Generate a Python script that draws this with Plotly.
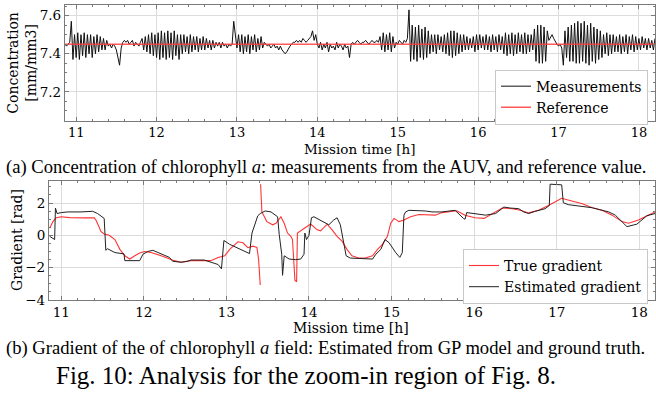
import numpy as np
import plotly.graph_objects as go

# ---------------- data ----------------
# (a) chlorophyll measurements, sampled uniformly from 10.86 h to 18.20 h
meas_start, meas_end = 10.86, 18.20
meas_vals = [
    7.45, 7.44, 7.45, 7.46,
    7.57, 7.37,
    7.50, 7.38, 7.51, 7.37, 7.50, 7.39, 7.51, 7.38, 7.50, 7.40, 7.50, 7.38, 7.49, 7.40, 7.50, 7.41, 7.49, 7.42, 7.48, 7.42, 7.47,
    7.44, 7.45, 7.43, 7.45, 7.44,
    7.42, 7.38, 7.34,
    7.43,
    7.46, 7.47, 7.46, 7.47, 7.45, 7.46, 7.47, 7.44, 7.46, 7.45, 7.44, 7.46,
    7.48, 7.42, 7.49, 7.41, 7.50, 7.40, 7.51, 7.39, 7.50, 7.38, 7.51, 7.37, 7.52, 7.38, 7.51, 7.37, 7.52, 7.38, 7.51, 7.37, 7.52, 7.39, 7.50, 7.37, 7.50,
    7.40, 7.50, 7.41, 7.49, 7.40, 7.50, 7.41, 7.49, 7.42, 7.49, 7.41, 7.48, 7.42, 7.49, 7.42, 7.48, 7.43, 7.47, 7.42, 7.47, 7.43, 7.46, 7.44, 7.46, 7.43, 7.46, 7.44, 7.45, 7.43, 7.45,
    7.44, 7.45,
    7.57, 7.50,
    7.43, 7.50, 7.41, 7.50, 7.40, 7.49, 7.41, 7.50, 7.40, 7.49, 7.42, 7.50, 7.41, 7.48, 7.42, 7.49, 7.43, 7.46,
    7.45, 7.44, 7.45, 7.43, 7.44, 7.45, 7.43, 7.44, 7.42, 7.44,
    7.42, 7.41, 7.40, 7.41, 7.43, 7.44, 7.45,
    7.46, 7.46, 7.47, 7.46, 7.47, 7.46, 7.48, 7.47, 7.46, 7.47, 7.48,
    7.49, 7.52, 7.47, 7.50, 7.45,
    7.43, 7.46, 7.42, 7.45, 7.43, 7.46, 7.41, 7.45, 7.43, 7.44, 7.42, 7.46, 7.43, 7.45, 7.44, 7.42, 7.45, 7.43, 7.44,
    7.38, 7.45,
    7.46, 7.45, 7.46, 7.47, 7.46, 7.45, 7.46, 7.46, 7.47, 7.46, 7.45, 7.46, 7.47, 7.46, 7.46, 7.47, 7.46,
    7.49, 7.42, 7.51, 7.41, 7.50, 7.42, 7.51, 7.41, 7.49, 7.43,
    7.46, 7.45, 7.47, 7.46, 7.45, 7.47, 7.46, 7.48,
    7.63,
    7.36, 7.55, 7.37, 7.54, 7.36, 7.55, 7.38, 7.53, 7.37, 7.54, 7.38, 7.52, 7.40, 7.50, 7.41, 7.50, 7.40, 7.50, 7.42, 7.49, 7.41, 7.50, 7.40, 7.51, 7.39, 7.52,
    7.38, 7.52, 7.39, 7.51, 7.40, 7.50, 7.41, 7.50,
    7.42, 7.49, 7.42, 7.48, 7.43, 7.49, 7.41, 7.50,
    7.42, 7.50, 7.43, 7.49, 7.42, 7.50,
    7.42, 7.49, 7.41, 7.50, 7.42, 7.49, 7.41, 7.50, 7.42, 7.49,
    7.40, 7.51, 7.39, 7.50, 7.40, 7.51, 7.39, 7.50, 7.40, 7.51, 7.41, 7.50, 7.40, 7.51, 7.40, 7.50, 7.41, 7.50, 7.42,
    7.53, 7.36, 7.55, 7.35, 7.55, 7.35, 7.54, 7.36, 7.52,
    7.47, 7.49, 7.50,
    7.48, 7.46, 7.45,
    7.44, 7.45, 7.43,
    7.34,
    7.52, 7.38, 7.54, 7.36, 7.55, 7.36, 7.56, 7.35, 7.57, 7.35, 7.56, 7.36, 7.57, 7.35, 7.55, 7.34, 7.56, 7.36, 7.54, 7.35, 7.53, 7.37, 7.52, 7.38,
    7.50, 7.40, 7.51, 7.39, 7.50, 7.40, 7.50, 7.41, 7.49,
    7.41, 7.50, 7.40, 7.49, 7.41, 7.50, 7.40, 7.49, 7.42, 7.50, 7.41, 7.49, 7.42,
    7.48, 7.42, 7.49, 7.43, 7.48, 7.42, 7.48, 7.43, 7.47, 7.42, 7.48,
]
reference_value = 7.45

# (b) gradient: true (ground truth) and estimated from GP model
true_t = [10.86, 10.90, 10.94, 11.00, 11.10, 11.20, 11.30, 11.40, 11.42, 11.46, 11.48, 11.52, 11.58, 11.65,
          11.71, 11.77, 11.83, 11.89, 11.95, 12.01, 12.09, 12.21, 12.37, 12.45, 12.57, 12.73, 12.81, 12.90,
          12.98, 13.04, 13.14, 13.20, 13.26, 13.32, 13.37, 13.39, 13.41, None, 13.414, 13.43, 13.49, 13.56,
          13.60, 13.66, 13.70, 13.74, 13.78, 13.80, 13.83, 13.85, 13.86, 13.92, 14.00, 14.02, 14.10, 14.14,
          14.18, 14.22, 14.28, 14.34, 14.40, 14.46, 14.52, 14.60, 14.68, 14.77, 14.83, 14.89, 14.95, 14.99,
          15.03, 15.09, 15.15, 15.23, 15.33, 15.45, 15.53, 15.61, 15.73, 15.79, 15.89, 16.01, 16.12, 16.22,
          16.34, 16.46, 16.56, 16.66, 16.78, 16.90, 16.98, 17.06, 17.16, 17.31, 17.43, 17.55, 17.67, 17.79,
          17.87, 17.99, 18.07, 18.19]
true_v = [0.44, 0.85, 1.09, 1.15, 1.10, 1.07, 1.08, 1.08, 0.95, 0.50, 0.24, 0.08, 0.00, -0.26,
          -0.87, -1.27, -1.47, -1.27, -1.10, -1.00, -1.07, -1.27, -1.57, -1.67, -1.57, -1.57, -1.57, -1.37,
          -1.27, -0.87, -0.40, -0.46, -0.77, -0.67, -0.75, -1.50, -3.08, None, 3.17, 1.45, 0.85, 0.65,
          0.75, 1.15, 0.75, 0.14, -0.06, -0.26, -2.78, -2.88, 0.14, 0.34, 0.65, 0.70, 0.34, 0.28,
          0.48, 0.69, 0.34, -0.06, -0.36, -0.87, -1.27, -1.41, -1.41, -1.27, -0.87, -0.56, -0.06, 0.75,
          1.05, 0.85, 0.95, 1.15, 1.29, 1.25, 1.25, 1.41, 1.49, 1.52, 1.25, 1.09, 1.05, 1.35,
          1.69, 1.65, 1.55, 1.39, 1.55, 1.85, 2.10, 2.30, 2.16, 1.96, 1.71, 1.55, 1.25, 0.85,
          0.75, 0.95, 1.15, 1.45]

est_t = [10.86, 10.92, 10.93, 10.95, 11.00, 11.08, 11.24, 11.34, 11.38, 11.44, 11.52, 11.54, 11.56, 11.65,
         11.73, 11.76, 11.77, 11.95, 11.99, 12.05, 12.11, 12.17, 12.31, 12.35, 12.45, 12.53, 12.57, 12.73,
         12.81, 12.90, 12.94, 12.97, 13.04, 13.16, 13.28, 13.31, 13.38, 13.41, 13.47, 13.54, 13.60, 13.62,
         13.64, 13.67, 13.68, 13.70, 13.76, 13.84, 13.90, 13.94, 13.95, 13.97, 14.00, 14.03, 14.06, 14.16,
         14.24, 14.30, 14.34, 14.38, 14.42, 14.45, 14.50, 14.64, 14.77, 14.81, 14.87, 14.92, 14.97, 15.05,
         15.10, 15.13, 15.15, 15.17, 15.21, 15.41, 15.49, 15.61, 15.73, 15.77, 15.87, 15.89, 15.91, 16.01,
         16.14, 16.26, 16.36, 16.44, 16.54, 16.60, 16.66, 16.74, 16.86, 16.91, 16.92, 17.06, 17.08, 17.14,
         17.31, 17.43, 17.55, 17.63, 17.71, 17.77, 17.79, 17.85, 17.97, 18.03, 18.09, 18.19]
est_v = [-0.06, -0.26, 1.69, 1.35, 1.41, 1.45, 1.45, 1.45, 1.49, 1.35, 1.05, -0.93, -0.83, -1.07,
         -1.13, -1.15, -1.57, -1.57, -1.17, -1.00, -0.93, -1.07, -1.37, -1.61, -1.67, -1.61, -1.53, -1.53,
         -1.67, -1.81, -2.08, -0.32, -0.56, -0.87, -1.13, 0.14, 1.21, 1.35, 1.51, 1.45, 1.25, 1.15,
         0.04, -1.17, -2.48, -1.27, -1.47, -1.51, -1.47, -1.17, 0.14, -0.26, 0.00, 1.09, 1.15, 0.89,
         0.65, 0.95, 1.09, 0.65, -0.36, -1.27, -1.41, -1.45, -1.47, -1.17, -0.87, -0.26, -0.46, -1.07,
         -1.37, -1.07, 1.25, 1.45, 1.55, 1.51, 1.45, 1.45, 1.51, 1.55, 1.05, 1.00, 1.41, 1.35,
         1.25, 1.35, 1.75, 1.69, 1.65, 1.45, 1.35, 1.49, 1.65, 1.85, 3.17, 3.13, 2.02, 1.90,
         1.81, 1.71, 1.55, 1.45, 1.25, 0.95, 0.81, 0.54, 0.69, 0.95, 1.21, 1.35]

# ---------------- figure ----------------
W, H = 656, 398
def px(x):
    return x / W
def py(y):
    return 1 - y / H

SERIF = "DejaVu Serif"
TIMES = "Liberation Serif"
GRID = "#dcdcdc"
FRAME = "#7a7a7a"

meas_t = np.linspace(meas_start, meas_end, len(meas_vals))

fig = go.Figure()
fig.add_trace(go.Scatter(x=meas_t, y=meas_vals, mode="lines", name="Measurements",
                         line=dict(color="#111111", width=1.0), xaxis="x", yaxis="y",
                         legend="legend"))
fig.add_trace(go.Scatter(x=[meas_start, meas_end], y=[reference_value, reference_value], mode="lines",
                         name="Reference", line=dict(color="rgba(255,60,60,0.85)", width=1.5),
                         xaxis="x", yaxis="y", legend="legend"))
fig.add_trace(go.Scatter(x=true_t, y=true_v, mode="lines", name="True gradient",
                         line=dict(color="rgba(255,30,30,0.9)", width=1.1), connectgaps=False,
                         xaxis="x2", yaxis="y2", legend="legend2"))
fig.add_trace(go.Scatter(x=est_t, y=est_v, mode="lines", name="Estimated gradient",
                         line=dict(color="#222222", width=1.0),
                         xaxis="x2", yaxis="y2", legend="legend2"))

common_axis = dict(showline=True, linecolor=FRAME, linewidth=1, mirror="allticks",
                   ticks="inside", tickcolor=FRAME, ticklen=4, showgrid=True, gridcolor=GRID,
                   gridwidth=1, zeroline=False, tickfont=dict(family=SERIF, size=13.5, color="black"))

legend_style = dict(xanchor="right", yanchor="top", bgcolor="white",
                    bordercolor="#c8c8c8", borderwidth=1,
                    font=dict(family=SERIF, size=14, color="black"), tracegroupgap=0)

fig.update_layout(
    width=W, height=H, margin=dict(l=0, r=0, t=0, b=0),
    paper_bgcolor="white", plot_bgcolor="white", showlegend=True,
    xaxis=dict(common_axis, domain=[px(65), 1.0], range=[10.86, 18.20], dtick=1, anchor="y",
               ticklabelstandoff=0, tickfont=dict(family=SERIF, size=13, color="black"),
               minor=dict(ticks="inside", dtick=0.2, ticklen=2, tickcolor=FRAME, showgrid=False)),
    yaxis=dict(common_axis, domain=[py(123), py(5)], range=[7.05, 7.656], dtick=0.2, anchor="x",
               tickformat=".1f",
               minor=dict(ticks="inside", dtick=0.05, ticklen=2, tickcolor=FRAME, showgrid=False)),
    xaxis2=dict(common_axis, domain=[px(49), 1.0], range=[10.851, 18.19], dtick=1, anchor="y2",
                ticklabelstandoff=0,
                minor=dict(ticks="inside", dtick=0.2, ticklen=2, tickcolor=FRAME, showgrid=False)),
    yaxis2=dict(common_axis, domain=[py(306), py(185)], range=[-4, 3.35], dtick=2, anchor="x2",
                minor=dict(ticks="inside", dtick=0.5, ticklen=2, tickcolor=FRAME, showgrid=False)),
    legend=dict(legend_style, x=px(649), y=py(71)),
    legend2=dict(legend_style, x=px(649), y=py(254)),
)

annots = [
    dict(text="Mission time [h]", x=px(360), y=py(152), size=13.5, family=SERIF),
    dict(text="Concentration<br>[mm/mm3]", x=px(22), y=py(64), textangle=-90, size=14, family=SERIF),
    dict(text="Mission time [h]", x=px(352), y=py(335), size=14, family=SERIF),
    dict(text="Gradient [rad]", x=px(17), y=py(245), textangle=-90, size=14, family=SERIF),
    dict(text="(a) Concentration of chlorophyll <i>a</i>: measurements from the AUV, and reference value.",
         x=px(4), y=py(170), xanchor="left", size=18.6, family=TIMES),
    dict(text="(b) Gradient of the of chlorophyll <i>a</i> field: Estimated from GP model and ground truth.",
         x=px(4), y=py(355), xanchor="left", size=18.6, family=TIMES),
    dict(text="Fig. 10: Analysis for the zoom-in region of Fig. 8.",
         x=px(306), y=py(383), size=25, family=TIMES),
]
for a in annots:
    a = dict(a)
    size = a.pop("size")
    family = a.pop("family")
    a.setdefault("xanchor", "center")
    fig.add_annotation(xref="paper", yref="paper", showarrow=False, yanchor="middle",
                       font=dict(family=family, size=size, color="black"), **a)

fig.write_html("out.html")
